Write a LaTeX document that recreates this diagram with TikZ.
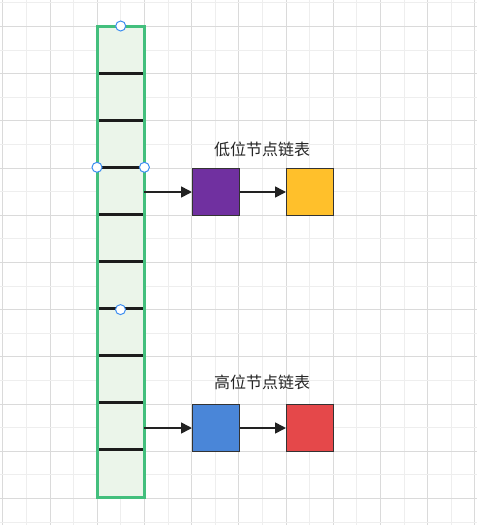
\documentclass[tikz,border=0pt]{standalone}
\usepackage{fontspec}
\newfontfamily\cjk{Noto Sans CJK SC}
\usetikzlibrary{arrows.meta}
\definecolor{gridminor}{HTML}{EEEEEE}
\definecolor{gridmajor}{HTML}{DADADA}
\definecolor{colfill}{HTML}{EBF5EA}
\definecolor{colborder}{HTML}{43BF7D}
\definecolor{divider}{HTML}{1C1C1C}
\definecolor{purplebox}{HTML}{7030A0}
\definecolor{yellowbox}{HTML}{FFC02B}
\definecolor{bluebox}{HTML}{4A86D8}
\definecolor{redbox}{HTML}{E5484A}
\definecolor{boxedge}{HTML}{333333}
\definecolor{arrowcol}{HTML}{222222}
\definecolor{handle}{HTML}{3D8EF0}
\tikzset{
  listbox/.style={draw=boxedge, line width=1pt, minimum width=47pt, minimum height=47pt, inner sep=0pt, anchor=north west},
  link/.style={draw=arrowcol, line width=1.6pt, -{Triangle[length=11pt,width=11pt]}},
  lbl/.style={font=\cjk\fontsize{16}{18}\selectfont, text=black!85, inner sep=0pt},
  handlept/.style={circle, draw=handle, fill=white, line width=1pt, minimum size=10pt, inner sep=0pt},
}
\begin{document}
\begin{tikzpicture}[x=1pt,y=-1pt]
\useasboundingbox (0,0) rectangle (477,525);
\fill[white] (0,0) rectangle (477,525);
% grid
\foreach \k in {0,...,21} {
  \pgfmathsetmacro\xx{2.8+\k*23.6}
  \pgfmathtruncatemacro\parity{mod(\k,2)}
  \ifnum\parity=0 \draw[gridmajor,line width=1pt] (\xx,0) -- (\xx,525);
  \else \draw[gridminor,line width=1pt] (\xx,0) -- (\xx,525); \fi
}
\foreach \k in {0,...,22} {
  \pgfmathsetmacro\yy{2.8+\k*23.6}
  \pgfmathtruncatemacro\parity{mod(\k,2)}
  \ifnum\parity=1 \draw[gridmajor,line width=1pt] (0,\yy) -- (477,\yy);
  \else \draw[gridminor,line width=1pt] (0,\yy) -- (477,\yy); \fi
}
% column
\node[fill=colfill, minimum width=47pt, minimum height=471pt, inner sep=0pt, anchor=north west] (col) at (97,26) {};
\foreach \i in {1,...,9} {
  \pgfmathsetmacro\yy{26+\i*47.1}
  \draw[divider, line width=3pt] (97.5,\yy) -- (143.5,\yy);
}
\draw[colborder, line width=3pt] (col.north west) rectangle (col.south east);
% boxes
\node[listbox, fill=purplebox] (p) at (192,168) {};
\node[listbox, fill=yellowbox] (y) at (286,168) {};
\node[listbox, fill=bluebox] (b) at (192,404) {};
\node[listbox, fill=redbox] (r) at (286,404) {};
% labels
\node[lbl] (lowlbl) at (262,149) {低位节点链表};
\node[lbl] (highlbl) at (262,382.5) {高位节点链表};
% arrows
\draw[link] (col.east |- p.west) -- (p.west);
\draw[link] (p.east) -- (y.west);
\draw[link] (col.east |- b.west) -- (b.west);
\draw[link] (b.east) -- (r.west);
% selection handles
\node[handlept] (h1) at (col.north) {};
\node[handlept] (h2) at (col.west |- 0,167.3) {};
\node[handlept] (h3) at (col.east |- 0,167.3) {};
\node[handlept] (h4) at (120.5,309.6) {};
\end{tikzpicture}
\end{document}
